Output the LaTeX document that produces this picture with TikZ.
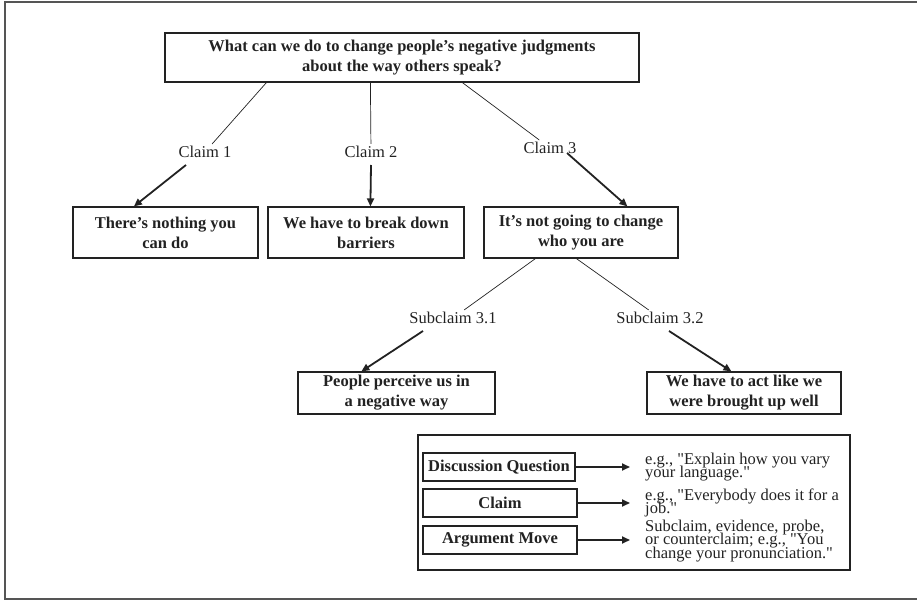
\documentclass[tikz,border=0pt]{standalone}
\usepackage{fontspec}
\setmainfont{Liberation Serif}[Ligatures=TeXOff]
\usetikzlibrary{arrows.meta,calc}
\definecolor{ink}{HTML}{222222}
\definecolor{frame}{HTML}{555555}
\begin{document}
% allow tightly set multi-line texts to sit close together
\lineskiplimit=-30pt
\begin{tikzpicture}[x=1pt,y=-1pt,
  every node/.style={text=ink},
  boxnode/.style={draw=ink, line width=1.2pt, align=center, inner sep=0pt,
    font=\fontsize{16.5}{20}\selectfont\bfseries},
  legbox/.style={boxnode, minimum height=28pt, font=\fontsize{16.5}{20}\selectfont\bfseries},
  lbl/.style={font=\fontsize{16.5}{20}\selectfont, inner sep=2pt},
  legtext/.style={anchor=west, align=left, inner sep=0pt,
    font=\fontsize{16.5}{13.5}\selectfont},
  link/.style={draw=ink, line width=0.7pt},
  arr/.style={draw=ink, line width=1.8pt, -{Triangle[length=8pt,width=7pt]}},
  legarr/.style={draw=ink, line width=1.8pt, -{Triangle[length=8pt,width=7pt]}}]
\useasboundingbox (0,0) rectangle (917,601);
% page frame (open on the right)
\draw[frame, line width=2pt] (917,2) -- (5,2) -- (5,599) -- (917,599);

% question and claims
\node[boxnode, minimum width=474pt, minimum height=49pt] (q) at (402,57.5)
  {What can we do to change people’s negative judgments\\about the way others speak?};
\node[lbl] (c1) at (205,152) {Claim 1};
\node[lbl] (c2) at (371,152) {Claim 2};
\node[lbl] (c3) at (550,148) {Claim 3};
\node[boxnode, minimum width=185pt, minimum height=51pt] (b1) at (165.5,232.5)
  {There’s nothing you\\can do};
\node[boxnode, minimum width=196pt, minimum height=51pt] (b2) at (366,232.5)
  {We have to break down\\barriers};
\node[boxnode, minimum width=194pt, minimum height=51pt] (b3) at (581,232.5)
  {It’s not going to change\\who you are};

\draw[link] ($(q.south west)+(102,0)$) -- (c1);
\draw[link] ($(q.south west)+(206,0)$) -- (c2);
\draw[link] ($(q.south west)+(298,0)$) -- (c3);
\draw[arr] ($(c1.center)+(-19,13)$) -- ($(b1.north west)+(61.5,0)$);
\draw[arr] ($(c2.center)+(0,13)$) -- ($(b2.north west)+(103,0)$);
\draw[arr] ($(c3.center)+(17,5)$) -- ($(b3.north west)+(144,0)$);

% subclaims
\node[lbl] (s1) at (453,318) {Subclaim 3.1};
\node[lbl] (s2) at (660,318) {Subclaim 3.2};
\node[boxnode, minimum width=197pt, minimum height=42pt] (b4) at (396.5,393)
  {People perceive us in\\a negative way};
\node[boxnode, minimum width=194pt, minimum height=42pt] (b5) at (744,393)
  {We have to act like we\\were brought up well};

\draw[link] ($(b3.south west)+(52,0)$) -- (s1);
\draw[link] ($(b3.south west)+(93,0)$) -- (s2);
\draw[arr] ($(s1.center)+(-30,13)$) -- ($(b4.north west)+(64,0)$);
\draw[arr] ($(s2.center)+(9,13)$) -- ($(b5.north west)+(85,0)$);

% legend
\node[draw=ink, line width=1.2pt, minimum width=432pt, minimum height=135pt,
  inner sep=0pt] (leg) at (634,502.5) {};
\node[legbox, minimum width=152pt] (ldq) at (499,467) {Discussion Question};
\node[legbox, minimum width=154pt] (lcl) at (500,503) {Claim};
\node[legbox, minimum width=154pt] (lam) at (500,540) {Argument Move};
\node[legtext] (tdq) at (645,467) {e.g., "Explain how you vary\\your language."};
\node[legtext] (tcl) at (645,503) {e.g., "Everybody does it for a\\job."};
\node[legtext] (tam) at (645,541) {Subclaim, evidence, probe,\\or counterclaim; e.g., "You\\change your pronunciation."};
\draw[legarr] (ldq.east) -- (ldq.east -| 630,0);
\draw[legarr] (lcl.east) -- (lcl.east -| 630,0);
\draw[legarr] (lam.east) -- (lam.east -| 630,0);
\end{tikzpicture}
\end{document}
